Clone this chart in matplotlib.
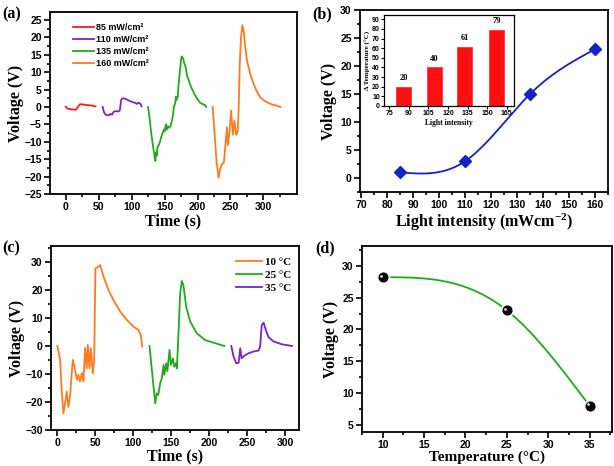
import numpy as np
import matplotlib
matplotlib.use("Agg")
import matplotlib.pyplot as plt
from matplotlib.ticker import MultipleLocator, FixedLocator
import matplotlib.transforms as mtransforms

plt.rcParams["mathtext.default"] = "regular"

# ---------------- data ----------------
# (a) voltage vs time at different light intensities
a_labels = ["85 mW/cm²", "110 mW/cm²", "135 mW/cm²", "160 mW/cm²"]
a85_t = [0, 2, 6, 10, 15, 17, 19, 21, 24, 30, 35, 40, 45]
a85_v = [0.1, -0.4, -0.6, -0.7, -0.8, -0.4, 0.2, 0.7, 0.8, 0.6, 0.5, 0.4, 0.2]
a110_t = [56, 58, 61, 65, 68, 70, 73, 77, 80, 82, 84, 86, 90, 95, 100, 105, 108, 110, 113, 115]
a110_v = [0, -1.5, -2.3, -2.4, -2.0, -2.2, -1.3, -1.2, -1.3, -1.0, 2.0, 2.5, 2.4, 1.9, 1.5, 1.2, 0.9, 1.2, 1.0, 0.2]
a135_t = [125, 127, 130, 133, 135, 136, 137, 138, 139, 141, 143, 145, 147, 149, 150, 152, 153, 155, 157,
          159, 161, 163, 164, 166, 167, 168, 170, 171, 173, 175, 176, 178, 180, 182, 184, 186, 188, 192,
          196, 200, 204, 208, 212, 213]
a135_v = [0, -3, -8, -12, -14.5, -15.5, -13, -14, -11.5, -11, -10, -8.5, -7.5, -6.5, -7, -5, -6.5, -5.5, -6,
          -5.5, -4, -2, 0, 1, 3, 2, 3, 6, 10, 13.5, 14.5, 14.0, 12.5, 11.5, 9, 8, 6.8, 5,
          3.5, 2.2, 1.2, 0.8, 0.5, 0]
a160_t = [223, 226, 229, 232, 234, 237, 240, 242, 244.7, 246, 248.6, 251, 253.6, 256, 258.6, 261, 262.5,
          264, 266, 268, 270, 272, 275, 280, 285, 290, 295, 300, 305, 310, 315, 320, 326]
a160_v = [0, -8, -16, -20.3, -18, -16.4, -16, -11.6, -5.8, -11, -7, -1, -7.9, -4, -8, -7, 0,
          12, 20, 23.5, 22, 18, 13.4, 9.5, 6.7, 4.5, 2.8, 2.0, 1.4, 1.0, 0.6, 0.4, 0]
a_xticks = [0, 50, 100, 150, 200, 250, 300]

# (b) voltage vs light intensity, inset temperature rise
b_int = [85, 110, 135, 160]
b_volt = [1, 3, 15, 23]
inset_pos = [86, 109.5, 133, 157]
inset_dT = [20, 40, 61, 79]

# (c) voltage vs time at different temperatures
c_labels = ["10 °C", "25 °C", "35 °C"]
c10_t = [0.4, 4, 6, 8.3, 10.5, 12.7, 14.9, 17, 20.6, 22.4, 26, 28, 30, 32.5, 34.6, 36.8, 39, 40.4, 42.5,
         44.3, 47, 48.7, 50.4, 54.4, 56.6, 61, 67.5, 74, 83, 91.7, 100.4, 107, 110, 112]
c10_v = [0, -5, -15.7, -24, -20.5, -16.3, -21.7, -18, -5, -6.8, -12, -10.3, -12.7, -9.7, -12.7, -0.8, -8,
         0.4, -8, -0.8, -9.8, -5, 27.7, 28.3, 28.9, 24.8, 20, 16.4, 12.3, 9.3, 6.9, 5.7, 3.9, -0.2]
c25_t = [121.5, 124.6, 129, 131, 133, 135.5, 137.7, 140, 141, 143.4, 145, 147.8, 149.6, 152.2, 154, 156,
         157.5, 159.6, 161.8, 164, 166, 169.7, 175, 183.8, 194.7, 207.9, 219.7]
c25_v = [0, -8.6, -20.5, -16.9, -17.5, -13.3, -11.5, -6.8, -10.3, -6.2, -9, -1.4, -6.8, -4.4, -7.4, -6.2,
         -8, 4.6, 18.8, 23.2, 21.8, 14, 8.7, 4.5, 2.1, 1.0, 0]
c35_t = [229, 232, 235.5, 238.6, 240.8, 242.5, 246, 251.7, 258, 265, 267, 269, 271.5, 273.7, 278, 284.6,
         295.6, 308.8]
c35_v = [0, -3.8, -6.2, -6, -0.8, -4.4, -3.5, -2.6, -2, -1.6, 0, 7.5, 8.3, 6.3, 3.1, 1.6, 0.6, 0]

# (d) voltage vs temperature
d_temp = [10, 25, 35]
d_volt = [28.2, 23, 8]

# ---------------- helpers ----------------
def natural_spline(x, y, n=200):
    x = np.asarray(x, float); y = np.asarray(y, float)
    k = len(x); h = np.diff(x)
    A = np.zeros((k, k)); r = np.zeros(k)
    A[0, 0] = A[-1, -1] = 1
    for i in range(1, k - 1):
        A[i, i - 1] = h[i - 1]; A[i, i] = 2 * (h[i - 1] + h[i]); A[i, i + 1] = h[i]
        r[i] = 6 * ((y[i + 1] - y[i]) / h[i] - (y[i] - y[i - 1]) / h[i - 1])
    M = np.linalg.solve(A, r)
    xs = np.linspace(x[0], x[-1], n); ys = np.empty_like(xs)
    for j, xv in enumerate(xs):
        i = min(np.searchsorted(x, xv, side="right") - 1, k - 2)
        t1 = x[i + 1] - xv; t0 = xv - x[i]
        ys[j] = (M[i] * t1**3 + M[i + 1] * t0**3) / (6 * h[i]) \
            + (y[i] / h[i] - M[i] * h[i] / 6) * t1 + (y[i + 1] / h[i] - M[i + 1] * h[i] / 6) * t0
    return xs, ys

SANS = "Liberation Sans"
SERIF = "Liberation Serif"

def style(ax, xmaj, xmin, ymaj, ymin):
    for s in ax.spines.values():
        s.set_linewidth(1.3)
    ax.xaxis.set_major_locator(MultipleLocator(xmaj))
    ax.xaxis.set_minor_locator(MultipleLocator(xmin))
    ax.yaxis.set_major_locator(MultipleLocator(ymaj))
    ax.yaxis.set_minor_locator(MultipleLocator(ymin))
    ax.tick_params(which="both", direction="out", top=False, right=False, width=1.2)
    ax.tick_params(which="major", length=4, labelsize=7.5, pad=2)
    ax.tick_params(which="minor", length=2.2)
    for lab in ax.get_xticklabels() + ax.get_yticklabels():
        lab.set_fontfamily(SANS); lab.set_fontweight("bold")

lab_kw = dict(fontfamily=SERIF, fontweight="bold", fontsize=11.5)

C_RED, C_PUR, C_GRN, C_ORG, C_BLU = "#ff1a1a", "#7d22c8", "#22aa1c", "#ff7a1f", "#1522c4"

fig = plt.figure(figsize=(6.14, 4.66), dpi=100)

# ---------------- (a) ----------------
axa = fig.add_axes([50/614, 1-194/466, 247/614, 182/466])
axa.plot(a85_t, a85_v, color=C_RED, lw=1.3, label=a_labels[0])
axa.plot(a110_t, a110_v, color=C_PUR, lw=1.3, label=a_labels[1])
axa.plot(a135_t, a135_v, color=C_GRN, lw=1.3, label=a_labels[2])
axa.plot(a160_t, a160_v, color=C_ORG, lw=1.3, label=a_labels[3])
axa.set_xlim(-24, 351); axa.set_ylim(-25, 27.3)
style(axa, 50, 25, 5, 2.5)
axa.xaxis.set_major_locator(FixedLocator(a_xticks))
axa.xaxis.set_minor_locator(FixedLocator([-25] + [t + 25 for t in a_xticks]))
axa.set_xlabel("Time (s)", labelpad=1, **lab_kw)
axa.set_ylabel("Voltage (V)", labelpad=0, **lab_kw)
axa.legend(loc="upper left", bbox_to_anchor=(0.08, 0.96), frameon=False, handlelength=2.3,
           handletextpad=0.2, labelspacing=0.35, borderaxespad=0,
           prop=dict(family=SANS, weight="bold", size=6.5))
fig.text(2/614, 1-18/466, "(a)", **lab_kw)

# ---------------- (b) ----------------
axb = fig.add_axes([360/614, 1-192/466, 248/614, 182/466])
xs, ys = natural_spline(b_int, b_volt)
axb.plot(xs, ys, color=C_BLU, lw=1.3)
axb.plot(b_int, b_volt, ls="none", marker="D", ms=6, color=C_BLU)
axb.set_xlim(69.5, 165); axb.set_ylim(-2.5, 30)
style(axb, 10, 5, 5, 2.5)
axb.set_xlabel("Light intensity (mWcm$^{-2}$)", labelpad=1, **lab_kw)
axb.set_ylabel("Voltage (V)", labelpad=2, **lab_kw)
fig.text(312/614, 1-18/466, "(b)", **lab_kw)

axi = fig.add_axes([384/614, 1-106/466, 130/614, 91/466])
axi.bar(inset_pos, inset_dT, width=11.5, color="#ff1010", edgecolor="#e03030", lw=0.5)
for xp, v in zip(inset_pos, inset_dT):
    axi.text(xp, v + 5, str(v), ha="center", va="bottom", fontfamily=SERIF, fontweight="bold", fontsize=6)
axi.set_xlim(71, 170.6); axi.set_ylim(0, 94.5)
axi.xaxis.set_major_locator(MultipleLocator(15))
axi.yaxis.set_major_locator(MultipleLocator(10))
for s in axi.spines.values():
    s.set_linewidth(0.9)
axi.tick_params(which="both", direction="out", length=2, width=0.8, labelsize=5, pad=1)
for lab in axi.get_xticklabels() + axi.get_yticklabels():
    lab.set_fontfamily(SANS); lab.set_fontweight("bold")
axi.set_xlabel("Light intensity", fontfamily=SERIF, fontweight="bold", fontsize=5.5, labelpad=1)
axi.set_ylabel("Δ Temperature (°C)", fontfamily=SERIF, fontweight="bold", fontsize=5, labelpad=1)

# ---------------- (c) ----------------
axc = fig.add_axes([51/614, 1-430/466, 248/614, 184/466])
axc.plot(c10_t, c10_v, color=C_ORG, lw=1.3, label=c_labels[0])
axc.plot(c25_t, c25_v, color=C_GRN, lw=1.3, label=c_labels[1])
axc.plot(c35_t, c35_v, color=C_PUR, lw=1.3, label=c_labels[2])
axc.set_xlim(-8, 318); axc.set_ylim(-30, 35.7)
style(axc, 50, 25, 10, 5)
axc.set_xlabel("Time (s)", labelpad=0, **lab_kw)
axc.set_ylabel("Voltage (V)", labelpad=0, **lab_kw)
axc.legend(loc="upper right", bbox_to_anchor=(0.985, 0.965), frameon=False, handlelength=2.4,
           handletextpad=0.2, labelspacing=0.3, borderaxespad=0,
           prop=dict(family=SERIF, weight="bold", size=8))
fig.text(2/614, 1-252/466, "(c)", **lab_kw)

# ---------------- (d) ----------------
axd = fig.add_axes([362/614, 1-432/466, 250/614, 186/466])
xs, ys = natural_spline(d_temp, d_volt)
axd.plot(xs, ys, color=C_GRN, lw=1.3)
axd.plot(d_temp, d_volt, ls="none", marker="o", ms=8.5, mfc="black", mec="white", mew=1.2)
hl = mtransforms.offset_copy(axd.transData, fig=fig, x=-1.2, y=1.2, units="points")
axd.plot(d_temp, d_volt, ls="none", marker="o", ms=2, mfc="#d8d8d8", mec="none", transform=hl)
axd.set_xlim(7.5, 37.7); axd.set_ylim(3.9, 33.1)
style(axd, 5, 2.5, 5, 2.5)
axd.set_xlabel("Temperature (°C)", labelpad=0, fontfamily=SERIF, fontweight="bold", fontsize=11)
axd.set_ylabel("Voltage (V)", labelpad=2, **lab_kw)
fig.text(315/614, 1-252/466, "(d)", **lab_kw)

fig.savefig("out.png", dpi=100)
